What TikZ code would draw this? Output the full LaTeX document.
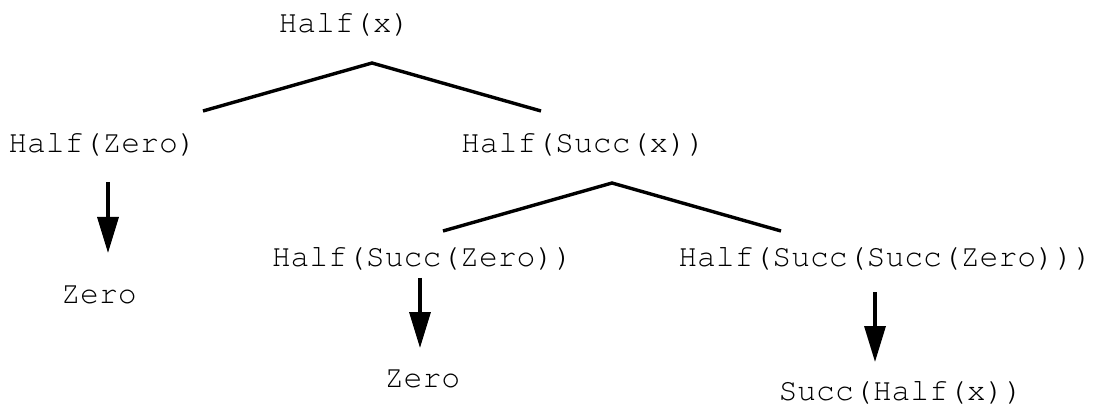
\documentclass[tikz,border=0pt]{standalone}
\usepackage[T1]{fontenc}
\usepackage{courier}
\usetikzlibrary{arrows.meta,calc}

\begin{document}
\begin{tikzpicture}[x=0.5pt,y=-0.5pt,
  term/.style={font=\ttfamily\fontsize{15.7}{18}\selectfont, inner sep=0pt, anchor=base},
  branch/.style={line width=1.7pt},
  reduce/.style={line width=1.7pt, -{Triangle[length=18pt,width=10.5pt]}}]
  \useasboundingbox (0,0) rectangle (1097,406);
  \node[term] (hx)   at (344.5,33)  {Half(x)};
  \node[term] (hz)   at (102.5,153) {Half(Zero)};
  \node[term] (hsx)  at (583.5,153) {Half(Succ(x))};
  \node[term] (z1)   at (99,303)    {Zero};
  \node[term] (hsz)  at (422.5,266) {Half(Succ(Zero))};
  \node[term] (hssz) at (885.5,266) {Half(Succ(Succ(Zero)))};
  \node[term] (z2)   at (422.5,387) {Zero};
  \node[term] (shx)  at (901,400)   {Succ(Half(x))};
  % forks
  \coordinate (fork1) at ($(hx.base)+(27.5,30)$);
  \coordinate (fork2) at ($(hsx.base)+(28.5,30)$);
  \draw[branch] ($(hz.base)+(100.5,-42)$) -- (fork1) -- ($(hsx.base)+(-42.5,-42)$);
  \draw[branch] ($(hsz.base)+(20.5,-35)$) -- (fork2) -- ($(hssz.base)+(-104.5,-35)$);
  % rewrites
  \draw[reduce] ($(hz.base)+(5.5,29)$) -- ($(z1.base)+(9,-50)$);
  \draw[reduce] ($(hsz.base)+(-2.5,12)$) -- ($(z2.base)+(-2.5,-39)$);
  \draw[reduce] ($(hssz.base)+(-10.5,26)$) -- ($(shx.base)+(-26,-38)$);
\end{tikzpicture}
\end{document}
